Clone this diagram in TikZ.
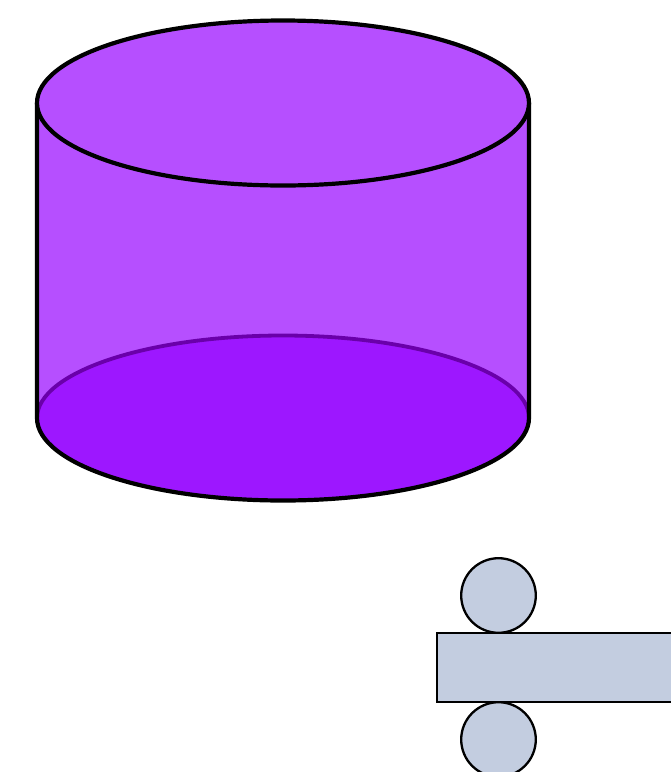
\documentclass[tikz,border=0pt]{standalone}
\definecolor{cylside}{HTML}{B64FFF}
\definecolor{cylbase}{HTML}{9D17FF}
\definecolor{cylrim}{HTML}{6A00AA}
\definecolor{netfill}{HTML}{C3CDE0}
\tikzset{cylline/.style={draw=black,line width=4.2pt},netline/.style={draw=black,fill=netfill,line width=2.3pt}}
\begin{document}
\begin{tikzpicture}[x=1pt,y=-1pt]
\useasboundingbox (0,0) rectangle (671,772);
% side
\fill[cylside] (37,103) rectangle (529,418);
% base
\fill[cylbase] (283,418) ellipse[x radius=246,y radius=82.5];
\draw[cylrim,line width=3.8pt] (37,418) arc[x radius=246,y radius=82.5,start angle=180,end angle=360];
% outline
\draw[cylline] (37,103) -- (37,418) arc[x radius=246,y radius=82.5,start angle=180,end angle=0] -- (529,103);
\draw[cylline,fill=cylside] (283,103) ellipse[x radius=246,y radius=82.5];
% net
\path[clip] (0,0) rectangle (671,772);
\draw[netline] (498.5,595.5) circle[radius=37.3];
\draw[netline] (498.5,739.5) circle[radius=37.3];
\draw[netline] (437,632.8) rectangle (680,702);
\end{tikzpicture}
\end{document}
